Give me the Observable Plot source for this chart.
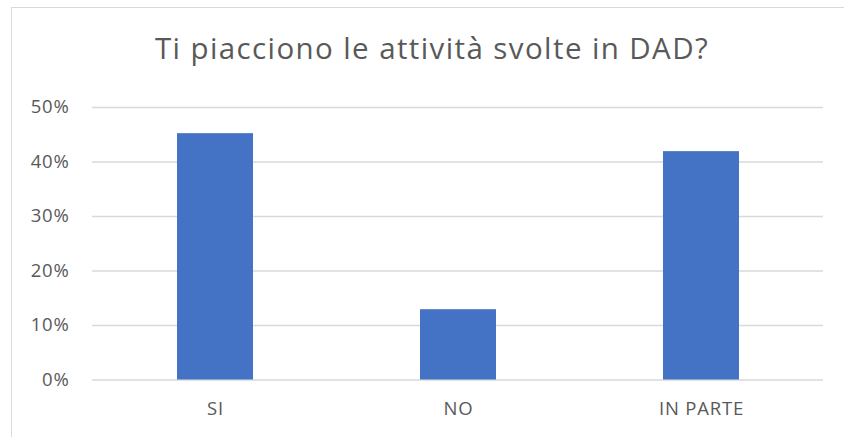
<!DOCTYPE html>
<html>
<head>
<meta charset="utf-8">
<script src="https://cdn.jsdelivr.net/npm/d3@7"></script>
<script src="https://cdn.jsdelivr.net/npm/@observablehq/plot@0.6"></script>
<style>
  html, body { margin: 0; padding: 0; background: #fff; width: 844px; height: 437px; overflow: hidden; }
  #frame { position: absolute; left: 11px; top: 7px; width: 820px; height: 425px; border-top: 1.5px solid #d9d9d9; border-left: 1.5px solid #d9d9d9; box-sizing: border-box; }
  #frame2 { position: absolute; left: 11px; top: 7px; width: 833px; height: 430px; overflow: hidden; }
  #title { position: absolute; left: 0; width: 864px; top: 28px; text-align: center; font-family: "Open Sans", sans-serif; font-weight: 400; font-size: 29.5px; line-height: 40px; letter-spacing: 1.4px; color: #595959; white-space: nowrap; }
  #chart { position: absolute; left: 0; top: 80px; width: 844px; height: 357px; overflow: hidden; }
  #chart svg { display: block; }
</style>
</head>
<body>
<div id="frame2"><div style="position:absolute;left:0;top:0;width:900px;height:500px;border-top:1.5px solid #d9d9d9;border-left:1.5px solid #d9d9d9;"></div></div>
<div id="title">Ti piacciono le attività svolte in DAD?</div>
<div id="chart"></div>
<script>
const categories = ["SI", "NO", "IN PARTE"];
const values = [0.452, 0.129, 0.419];
const yTicks = [0, 0.1, 0.2, 0.3, 0.4, 0.5];

const data = categories.map((c, i) => ({category: c, value: values[i]}));

const plot = Plot.plot({
  width: 844,
  height: 357,
  marginLeft: 92,
  marginRight: 21,
  marginTop: 27,
  marginBottom: 57.5,
  style: {fontFamily: "'Open Sans', sans-serif", fontSize: "18px", color: "#595959", background: "transparent", letterSpacing: "0.8px"},
  x: {domain: categories, paddingInner: 0.688, paddingOuter: 0.344, label: null},
  y: {domain: [0, 0.5], label: null},
  marks: [
    Plot.gridY(yTicks, {stroke: "#d9d9d9", strokeOpacity: 1, strokeWidth: 1.5}),
    Plot.barY(data, {x: "category", y: "value", fill: "#4472C4"}),
    Plot.axisY(yTicks, {tickSize: 0, tickPadding: 23, tickFormat: d => Math.round(d * 100) + "%", fill: "#595959", fontSize: 18.5}),
    Plot.axisX({tickSize: 0, tickPadding: 22, fill: "#595959", fontSize: 18.5, label: null})
  ]
});
document.getElementById("chart").appendChild(plot);
</script>
</body>
</html>
